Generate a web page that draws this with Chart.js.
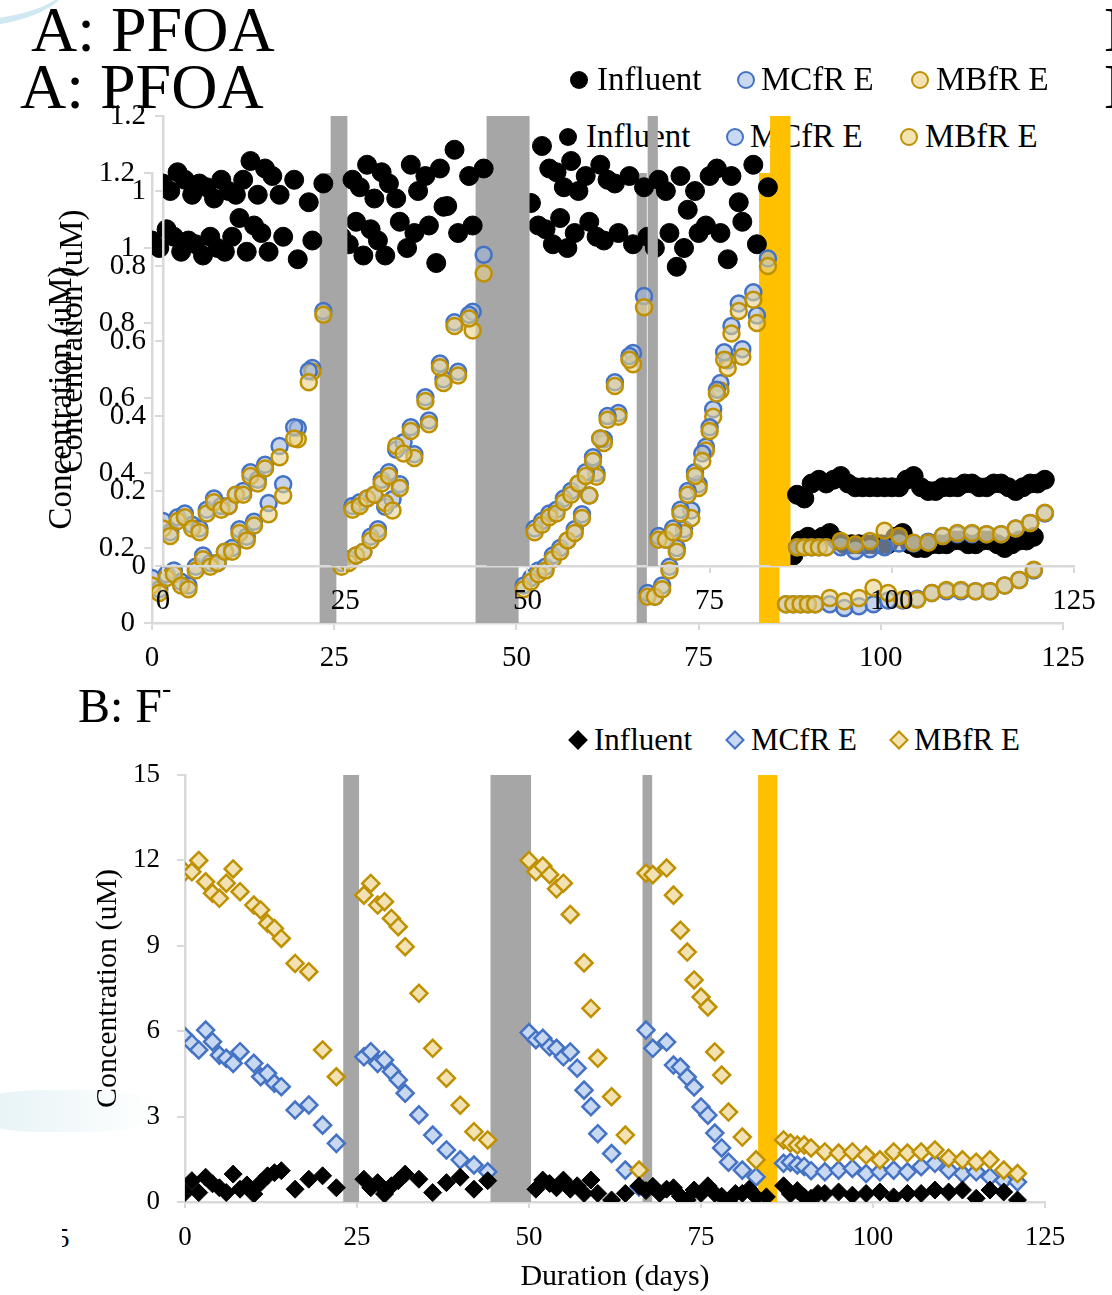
<!DOCTYPE html>
<html lang="en">
<head>
<meta charset="utf-8">
<title>PFOA y F-</title>
<script src="https://cdn.jsdelivr.net/npm/chart.js@4.4.1/dist/chart.umd.min.js"></script>
<style>
  html, body { margin: 0; padding: 0; }
  body { width: 1112px; height: 1295px; position: relative; overflow: hidden; background: #fff; font-family: "Liberation Serif", serif; color: #000; }
  .capa { position: absolute; width: 1112px; height: 690px; }
  .capa canvas, #capaB canvas { position: absolute; left: 0; top: 0; }
  .titulo { position: absolute; line-height: 1; white-space: nowrap; }
  .tA { font-size: 64px; left: 20px; top: 55px; }
  .txt { position: absolute; line-height: 1; white-space: nowrap; }
  .legA { font-size: 33px; top: 120px; }
  .legB { font-size: 31px; top: 724px; }
  .mk { position: absolute; box-sizing: border-box; }
  .circ { width: 18px; height: 18px; border-radius: 50%; top: 128px; }
  .rombo { width: 14px; height: 14px; transform: rotate(45deg); top: 733px; }
  .negro { background: #000; }
  .azul { background: #c9d9f2; border: 2.5px solid #4472c4; }
  .oro { background: #f3e3b3; border: 2.5px solid #bf9000; }
  .rombo.azul, .rombo.oro { border-width: 2px; }
</style>
</head>
<body>
<!-- adornos del fondo -->
<div style="position:absolute;left:-140px;top:-70px;width:210px;height:90px;border-radius:50%;border-bottom:7px solid rgba(150,205,225,0.45)"></div>
<div style="position:absolute;left:-30px;top:1090px;width:190px;height:42px;border-radius:40%;background:linear-gradient(90deg,rgba(210,233,238,0.6),rgba(240,248,248,0))"></div>
<div style="position:absolute;left:62px;top:1222px;width:12px;height:34px;overflow:hidden"><span class="txt" style="font-size:27px;left:-6px;top:3px">5</span></div>
<span class="titulo" style="font-size:64px;left:1104px;top:-2px">B</span>
<span class="titulo" style="font-size:64px;left:1104px;top:55px">B</span>

<!-- capa de atrás (A) -->
<div class="capa" style="left:0;top:0">
  <span class="titulo tA">A: PFOA</span>
  <span class="mk circ negro" style="left:559px"></span><span class="txt legA" style="left:586px">Influent</span>
  <span class="mk circ azul" style="left:726px"></span><span class="txt legA" style="left:750px">MCfR E</span>
  <span class="mk circ oro" style="left:900px"></span><span class="txt legA" style="left:925px">MBfR E</span>
  <canvas id="pfoaAtras" width="1112" height="690"></canvas>
</div>

<!-- capa de delante (A), desplazada -->
<div class="capa" style="left:11px;top:-57px">
  <span class="titulo tA">A: PFOA</span>
  <span class="mk circ negro" style="left:559px"></span><span class="txt legA" style="left:586px">Influent</span>
  <span class="mk circ azul" style="left:726px"></span><span class="txt legA" style="left:750px">MCfR E</span>
  <span class="mk circ oro" style="left:900px"></span><span class="txt legA" style="left:925px">MBfR E</span>
  <canvas id="pfoaDelante" width="1112" height="690"></canvas>
</div>

<!-- B -->
<span class="titulo" style="font-size:48px;left:78px;top:682px">B: F<span style="font-size:28px;position:relative;top:-25px">-</span></span>
<span class="mk rombo negro" style="left:571px"></span><span class="txt legB" style="left:594px">Influent</span>
<span class="mk rombo azul" style="left:728px"></span><span class="txt legB" style="left:751px">MCfR E</span>
<span class="mk rombo oro" style="left:892px"></span><span class="txt legB" style="left:914px">MBfR E</span>
<div id="capaB" style="position:absolute;left:0;top:680px;width:1112px;height:615px">
  <canvas id="graficoF" width="1112" height="615"></canvas>
</div>

<script>
//series
const series = ["Influent", "MCfR E", "MBfR E"];
//ticks
const ticksX = [0, 25, 50, 75, 100, 125];
const ticksPfoa = [0, 0.2, 0.4, 0.6, 0.8, 1, 1.2];
const ticksF = [0, 3, 6, 9, 12, 15];
//periodos sombreados (días)
const periodosGris = [[23, 25.3], [44.4, 50.3], [66.5, 67.9]];
const periodosAmarillo = [[83.3, 86.1]];

//datos PFOA [día, uM]
const pfoaInfluent = [[0,1.02],[1,1.00],[2,1.05],[3,1.03],[4,0.99],[5,1.02],[6,1.01],[7,0.98],[8,1.03],[9,1.00],[10,0.99],[11,1.03],[12,1.08],[13,0.99],[14,1.06],[15,1.04],[16,0.99],[18,1.03],[20,0.97],[22,1.02],
  [26,1.03],[27,1.01],[28,1.07],[29,0.98],[30,1.05],[31,1.02],[32,0.98],[34,1.07],[35,1.00],[36,1.04],[38,1.06],[39,0.96],[40,1.11],[42,1.04],[44,1.06],
  [52,1.12],[53,1.06],[54,1.05],[55,1.01],[56,1.08],[57,1.00],[58,1.04],[60,1.07],[61,1.03],[62,1.02],[64,1.04],[66,1.01],[68,1.03],[69,1.00],[71,1.04],[72,0.95],[73,1.00],[75,1.04],[76,1.06],[78,1.04],[79,0.97],[81,1.07],[83,1.01],
  [87,0.19],[88,0.18],[89,0.22],[90,0.23],[91,0.22],[92,0.23],[93,0.24],[94,0.22],[95,0.21],[96,0.21],[97,0.21],[98,0.21],[99,0.21],[100,0.21],[101,0.21],[102,0.23],[103,0.24],[104,0.21],[105,0.20],[106,0.20],[107,0.21],[108,0.21],[109,0.21],[110,0.22],[111,0.22],[112,0.21],[113,0.21],[114,0.22],[115,0.22],[116,0.21],[117,0.20],[118,0.21],[119,0.22],[120,0.22],[121,0.23]];
const pfoaMcfr = [[0,.12],[1,.09],[2,.13],[3,.14],[4,.11],[5,.10],[6,.15],[7,.18],[8,.16],[9,.16],[10,.19],[11,.20],[12,.25],[13,.23],[14,.27],[16,.32],[18,.37],[20,.52],[22,.68],
  [26,.16],[27,.17],[28,.18],[29,.19],[30,.23],[31,.25],[32,.31],[33,.33],[34,.37],[36,.45],[38,.54],[40,.65],[42,.67],[44,.83],
  [51,.10],[52,.12],[53,.14],[54,.15],[55,.18],[56,.20],[57,.22],[58,.25],[59,.29],[60,.34],[61,.40],[62,.49],[64,.56],[66,.72],
  [68,.08],[69,.07],[70,.10],[71,.15],[72,.20],[73,.25],[74,.30],[75,.37],[76,.47],[77,.57],[78,.64],[79,.70],[81,.73],[83,.82],
  [87,.05],[88,.05],[89,.05],[90,.05],[91,.05],[93,.05],[95,.04],[97,.045],[99,.05],[101,.06],[103,.06],[105,.065],[107,.08],[109,.085],[111,.085],[113,.085],[115,.085],[117,.10],[119,.115],[121,.14]];
const pfoaMbfr = [[0,.10],[1,.08],[2,.12],[3,.13],[4,.10],[5,.09],[6,.14],[7,.17],[8,.15],[9,.16],[10,.19],[11,.19],[12,.24],[13,.22],[14,.26],[16,.29],[18,.34],[20,.49],[22,.67],
  [26,.15],[27,.16],[28,.18],[29,.19],[30,.22],[31,.24],[32,.32],[33,.30],[34,.36],[36,.44],[38,.53],[40,.64],[42,.66],[44,.78],
  [51,.09],[52,.11],[53,.13],[54,.14],[55,.17],[56,.19],[57,.22],[58,.24],[59,.28],[60,.34],[61,.39],[62,.48],[64,.55],[66,.69],
  [68,.07],[69,.07],[70,.09],[71,.14],[72,.19],[73,.24],[74,.28],[75,.36],[76,.46],[77,.55],[78,.62],[79,.68],[81,.71],[83,.80],
  [87,.05],[88,.05],[89,.05],[90,.05],[91,.05],[93,.067],[95,.058],[97,.067],[99,.094],[101,.08],[103,.062],[105,.062],[107,.08],[109,.088],[111,.088],[113,.085],[115,.085],[117,.10],[119,.115],[121,.142]];

//datos fluoruro [día, uM]
const fInfluent = [[0,0.33],[1,0.75],[2,0.33],[3,0.87],[4,0.64],[5,0.5],[6,0.33],[7,0.98],[8,0.45],[9,0.6],[10,0.28],[11,0.68],[12,0.92],[13,1.03],[14,1.1],[16,0.45],[18,0.8],[20,0.92],[22,0.5],
  [26,0.8],[27,0.5],[28,0.68],[29,0.28],[30,0.57],[31,0.75],[32,0.98],[34,0.8],[36,0.33],[38,0.68],[40,0.87],[42,0.45],[44,0.75],
  [51,0.45],[52,0.77],[53,0.65],[54,0.5],[55,0.77],[56,0.45],[57,0.57],[58,0.3],[59,0.77],[60,0.3],[62,0.07],[64,0.3],[66,0.57],[67,0.4],[68,0.55],[69,0.3],[70,0.45],[71,0.5],[72,0.2],[73,0.07],[74,0.42],[75,0.3],[76,0.57],[77,0.3],[78,0.2],[79,0.0],[80,0.3],[81,0.3],[82,0.45],[83,0.18],[84.5,0.18],
  [87,0.57],[88,0.28],[89,0.4],[90,0.18],[91,0.13],[92,0.3],[93,0.3],[95,0.35],[97,0.24],[99,0.3],[101,0.35],[103,0.18],[105,0.3],[107,0.3],[109,0.42],[111,0.35],[113,0.42],[115,0.13],[117,0.42],[119,0.35],[121,0.07]];
const fMcfr = [[0,5.81],[1,5.57],[2,5.34],[3,6.04],[4,5.63],[5,5.16],[6,5.05],[7,4.87],[8,5.28],[10,4.87],[11,4.4],[12,4.52],[13,4.17],[14,4.05],[16,3.23],[18,3.41],[20,2.7],[22,2.06],
  [26,5.1],[27,5.28],[28,4.87],[29,4.99],[30,4.58],[31,4.29],[32,3.82],[34,3.06],[36,2.35],[38,1.83],[40,1.48],[42,1.3],[44,1.06],
  [50,5.95],[51,5.7],[52,5.75],[53,5.45],[54,5.4],[55,5.1],[56,5.27],[57,4.7],[58,3.93],[59,3.35],[60,2.4],[62,1.7],[64,1.12],[66,0.53],
  [67,6.04],[68,5.4],[70,5.62],[71,4.81],[72,4.74],[73,4.39],[74,4.04],[75,3.34],[76,3.05],[77,2.42],[78,1.9],[79,1.4],[81,1.12],[83,0.88],
  [87,1.36],[88,1.4],[89,1.3],[90,1.25],[91,1.1],[93,1.06],[95,1.12],[97,1.18],[99,1.0],[101,1.06],[103,1.12],[105,1.06],[107,1.24],[109,1.36],[111,1.12],[113,1.0],[115,1.06],[117,0.88],[119,0.76],[121,0.7]];
const fMbfr = [[0,11.6],[1,11.6],[2,12.0],[3,11.25],[4,10.85],[5,10.67],[6,11.2],[7,11.7],[8,10.9],[10,10.43],[11,10.26],[12,9.79],[13,9.61],[14,9.26],[16,8.38],[18,8.09],[20,5.34],[22,4.4],
  [26,10.78],[27,11.19],[28,10.43],[29,10.55],[30,9.96],[31,9.67],[32,8.97],[34,7.33],[36,5.4],[38,4.35],[40,3.4],[42,2.47],[44,2.18],
  [50,12.0],[51,11.6],[52,11.8],[53,11.5],[54,11.0],[55,11.2],[56,10.1],[58,8.4],[59,6.8],[60,5.05],[62,3.7],[64,2.35],[66,1.12],
  [67,11.55],[68,11.5],[70,11.73],[71,10.78],[72,9.55],[73,8.78],[74,7.8],[75,7.2],[76,6.85],[77,5.27],[78,4.46],[79,3.16],[81,2.28],[83,1.48],
  [87,2.18],[88,2.07],[89,2.0],[90,2.0],[91,1.9],[93,1.76],[95,1.72],[97,1.76],[99,1.65],[101,1.48],[103,1.76],[105,1.72],[107,1.76],[109,1.83],[111,1.54],[113,1.48],[115,1.4],[117,1.48],[119,1.12],[121,1.0]];

const puntos = pares => pares.map(([x, y]) => ({ x, y }));
const fuente = size => ({ family: "Liberation Serif", size });

//franjas grises y amarilla detrás de los puntos
const sombreado = {
    id: "sombreado",
    beforeDatasetsDraw(chart) {
        const { ctx, chartArea, scales: { x } } = chart;
        const pintar = (tramos, color) => tramos.forEach(([a, b]) => {
            const x1 = x.getPixelForValue(a);
            const x2 = x.getPixelForValue(b);
            ctx.fillStyle = color;
            ctx.fillRect(x1, chartArea.top, x2 - x1, chartArea.bottom - chartArea.top);
        });
        ctx.save();
        pintar(periodosGris, "#a6a6a6");
        pintar(periodosAmarillo, "#ffc000");
        ctx.restore();
    }
};

const ejeX = (tl, pad, size, alto, titulo) => ({
    type: "linear", min: 0, max: 125,
    afterBuildTicks: s => { s.ticks = ticksX.map(value => ({ value })); },
    ticks: { padding: pad, font: fuente(size), color: "#000" },
    grid: { drawOnChartArea: false, drawTicks: true, tickLength: tl, color: "#d9d9d9", lineWidth: 2 },
    border: { color: "#d9d9d9", width: 2.5 },
    title: titulo ? { display: true, text: titulo, font: fuente(30), color: "#000", padding: { top: 0, bottom: 0 } } : { display: false },
    afterFit: s => { s.height = alto; }
});
const ejeY = (ticks, max, pad, size, ancho, tSize, tPad) => ({
    min: 0, max,
    afterBuildTicks: s => { s.ticks = ticks.map(value => ({ value })); },
    ticks: { padding: pad, font: fuente(size), color: "#000", callback: v => String(+v.toFixed(1)) },
    grid: { drawOnChartArea: false, drawTicks: true, tickLength: 8, color: "#d9d9d9", lineWidth: 2 },
    border: { color: "#d9d9d9", width: 2.5 },
    title: { display: true, text: "Concentration (uM)", font: fuente(tSize), color: "#000", padding: { top: tPad, bottom: 0 } },
    afterFit: s => { s.width = ancho; }
});

const opcionesBase = (padding, scales) => ({
    responsive: false, animation: false, devicePixelRatio: 1,
    layout: { padding },
    plugins: { legend: { display: false }, tooltip: { enabled: false } },
    scales
});

//gráfico A (se dibuja dos veces, igual que en la imagen)
const crearPfoa = id => new Chart(document.getElementById(id), {
    type: "scatter",
    data: {
        datasets: [
            { label: series[0], data: puntos(pfoaInfluent), pointRadius: 9.5, backgroundColor: "#000", borderColor: "#000", borderWidth: 1 },
            { label: series[2], data: puntos(pfoaMbfr), pointRadius: 8, backgroundColor: "rgba(232,210,140,0.6)", borderColor: "#bf9000", borderWidth: 2.5 },
            { label: series[1], data: puntos(pfoaMcfr), pointRadius: 8, backgroundColor: "rgba(160,182,220,0.6)", borderColor: "#4472c4", borderWidth: 2.5 }
        ]
    },
    options: opcionesBase({ top: 173, right: 49, left: 0, bottom: 0 }, {
        x: ejeX(7, 11, 29, 67),
        y: ejeY(ticksPfoa, 1.2, 9, 29, 152, 33, 43)
    }),
    plugins: [sombreado]
});
crearPfoa("pfoaAtras");
crearPfoa("pfoaDelante");

//gráfico B
new Chart(document.getElementById("graficoF"), {
    type: "scatter",
    data: {
        datasets: [
            { label: series[0], data: puntos(fInfluent), pointStyle: "rectRot", pointRadius: 9, backgroundColor: "#000", borderColor: "#000", borderWidth: 1 },
            { label: series[2], data: puntos(fMbfr), pointStyle: "rectRot", pointRadius: 8.5, backgroundColor: "#f2e2b3", borderColor: "#bf9000", borderWidth: 2.5 },
            { label: series[1], data: puntos(fMcfr), pointStyle: "rectRot", pointRadius: 8.5, backgroundColor: "#c9d8f1", borderColor: "#4472c4", borderWidth: 2.5 }
        ]
    },
    options: opcionesBase({ top: 95, right: 67, left: 0, bottom: 0 }, {
        x: ejeX(6, 14, 27, 93, "Duration (days)"),
        y: ejeY(ticksF, 15, 17, 27, 185, 30, 90)
    }),
    plugins: [sombreado]
});
</script>
</body>
</html>
